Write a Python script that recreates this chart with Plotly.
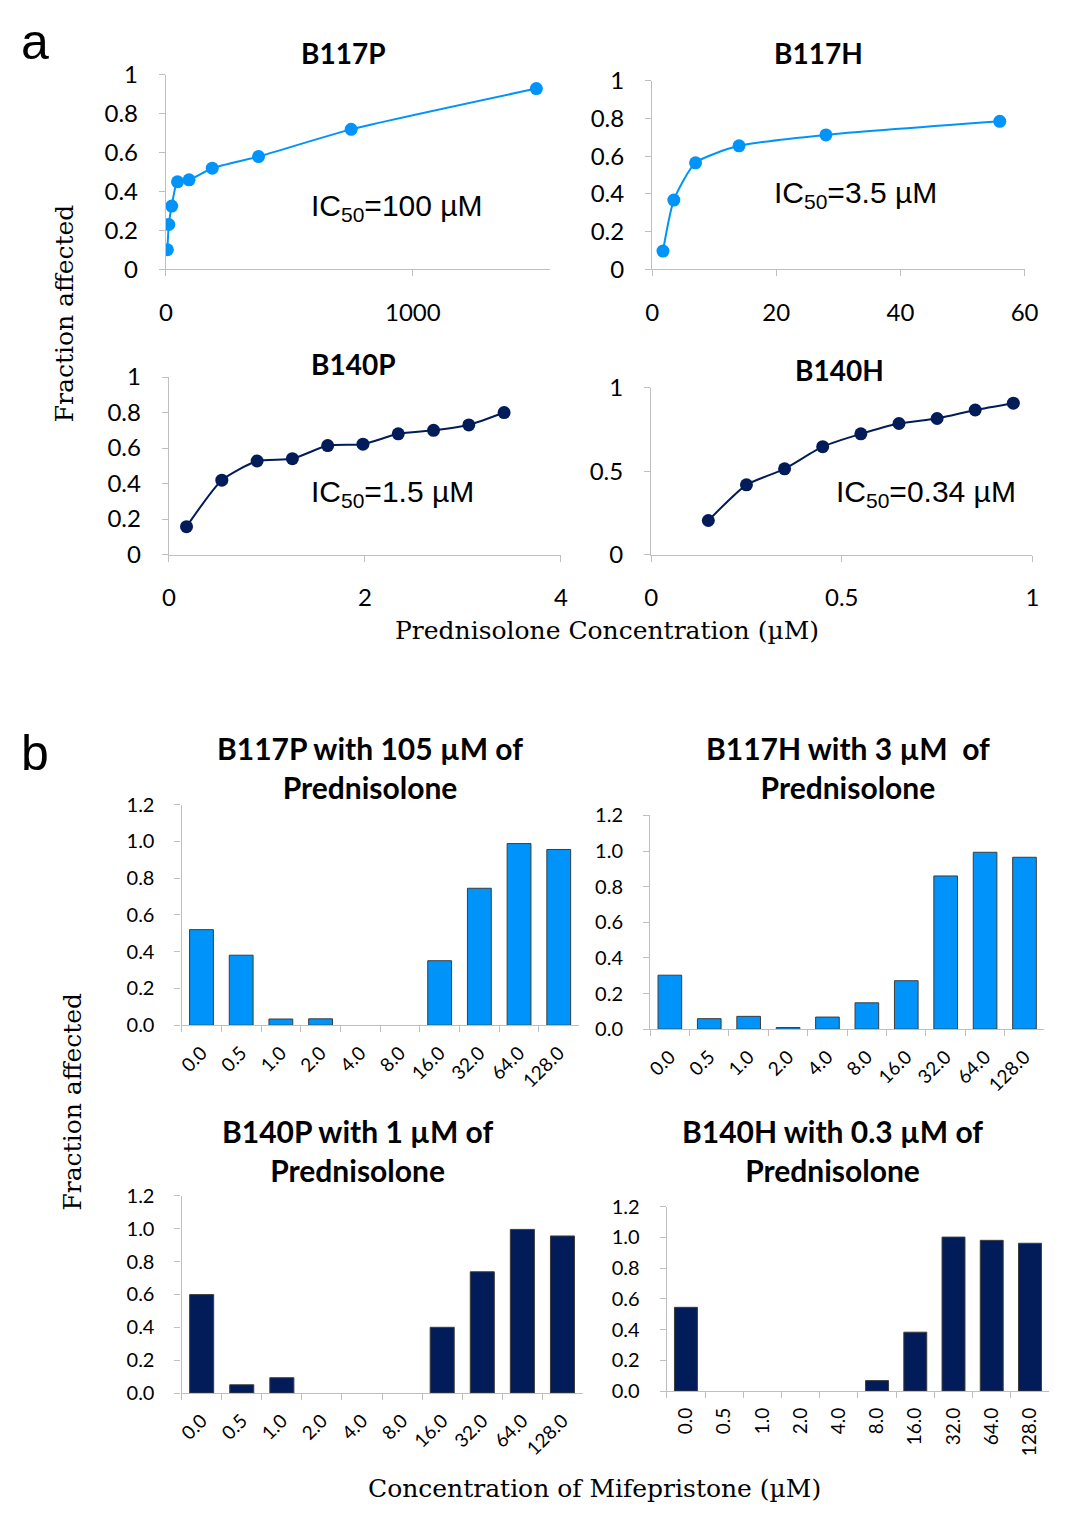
import plotly.graph_objects as go

W, H = 1067, 1516
PAD = 8                      # default page margin of the html body
FW, FH = W - PAD, H - 2 * PAD

# ---------------- Panel a data (Prednisolone dose response) ----------------
b117p_conc = [5.86, 11.7, 23.4, 46.9, 93.75, 187.5, 375, 750, 1500]
b117p_frac = [0.10, 0.23, 0.325, 0.45, 0.46, 0.52, 0.58, 0.72, 0.93]
b117h_conc = [1.75, 3.5, 7, 14, 28, 56]
b117h_frac = [0.096, 0.367, 0.565, 0.655, 0.713, 0.785]
b140p_conc = [0.18, 0.54, 0.90, 1.26, 1.62, 1.98, 2.34, 2.70, 3.06, 3.42]
b140p_frac = [0.157, 0.419, 0.527, 0.54, 0.614, 0.622, 0.68, 0.70, 0.73, 0.80]
b140h_conc = [0.15, 0.25, 0.35, 0.45, 0.55, 0.65, 0.75, 0.85, 0.95]
b140h_frac = [0.204, 0.418, 0.514, 0.647, 0.724, 0.786, 0.816, 0.867, 0.908]

# ---------------- Panel b data (Mifepristone) ----------------
mife_conc = ['0.0', '0.5', '1.0', '2.0', '4.0', '8.0', '16.0', '32.0', '64.0', '128.0']
b117p_mife = [0.52, 0.381, 0.034, 0.035, 0, 0, 0.351, 0.745, 0.988, 0.956]
b117h_mife = [0.303, 0.059, 0.072, 0.009, 0.068, 0.148, 0.272, 0.86, 0.993, 0.965]
b140p_mife = [0.599, 0.05, 0.093, 0, 0, 0, 0.40, 0.738, 0.996, 0.956]
b140h_mife = [0.545, 0, 0, 0, 0, 0.068, 0.383, 1.002, 0.981, 0.962]

line_titles = ['B117P', 'B117H', 'B140P', 'B140H']
ic50_labels = ['IC<sub>50</sub>=100 µM', 'IC<sub>50</sub>=3.5 µM',
               'IC<sub>50</sub>=1.5 µM', 'IC<sub>50</sub>=0.34 µM']
bar_titles = ['B117P with 105 µM of<br>Prednisolone',
              'B117H with 3 µM&nbsp; of<br>Prednisolone',
              'B140P with 1 µM of<br>Prednisolone',
              'B140H with 0.3 µM of<br>Prednisolone']

LIGHT = '#0094FA'
NAVY = '#021C5A'
AXC = '#BFBFBF'
SANS = 'Lato, Carlito, Calibri, sans-serif'
SERIF = 'DejaVu Serif, serif'


def px(x):
    return min(1.0, max(0.0, (x - PAD) / FW))


def py(y):
    return min(1.0, max(0.0, 1 - (y - PAD) / FH))


fig = go.Figure()

# domains in page pixels: (x0, x1, ytop, ybottom)
dom = {
    1: (162, 554, 60, 258),
    2: (658, 1038, 66, 258),
    3: (165, 565, 368, 549),
    4: (657, 1046, 379, 549),
    5: (178, 583, 804, 1029),
    6: (656, 1058, 815, 1033),
    7: (178, 587, 1203, 1404),
    8: (673, 1063, 1214, 1402),
}

line_sets = [
    (b117p_conc, b117p_frac, LIGHT, [0, 1556], [0, 1000], [0, 0.2, 0.4, 0.6, 0.8, 1.0]),
    (b117h_conc, b117h_frac, LIGHT, [0, 60], [0, 20, 40, 60], [0, 0.2, 0.4, 0.6, 0.8, 1.0]),
    (b140p_conc, b140p_frac, NAVY, [0, 4], [0, 2, 4], [0, 0.2, 0.4, 0.6, 0.8, 1.0]),
    (b140h_conc, b140h_frac, NAVY, [0, 1], [0, 0.5, 1], [0, 0.5, 1]),
]

layout_axes = {}
for i, (xs, ys, col, xr, xt, yt) in enumerate(line_sets, start=1):
    sfx = '' if i == 1 else str(i)
    fig.add_trace(go.Scatter(
        x=xs, y=ys, mode='lines+markers', xaxis='x' + sfx, yaxis='y' + sfx,
        line=dict(color=col, width=2, shape='spline', smoothing=0.6),
        marker=dict(color=col, size=13), showlegend=False))
    x0, x1, yt0, yb = dom[i]
    layout_axes['xaxis' + sfx] = dict(
        domain=[px(x0), px(x1)], anchor='y' + sfx, range=xr, tickvals=xt,
        showgrid=False, zeroline=False, showline=True, linecolor=AXC, linewidth=1.3,
        ticks='outside', ticklen=6, tickcolor=AXC, ticklabelstandoff=16,
        tickfont=dict(family=SANS, size=24, color='#000'))
    layout_axes['yaxis' + sfx] = dict(
        domain=[py(yb), py(yt0)], anchor='x' + sfx, range=[0, 1], tickvals=yt,
        ticktext=[('%g' % v) for v in yt],
        showgrid=False, zeroline=False, showline=True, linecolor=AXC, linewidth=1.3,
        ticks='outside', ticklen=6, tickcolor=AXC, ticklabelstandoff=16,
        tickfont=dict(family=SANS, size=24, color='#000'))

bar_sets = [
    (b117p_mife, LIGHT, -45),
    (b117h_mife, LIGHT, -45),
    (b140p_mife, NAVY, -45),
    (b140h_mife, NAVY, -90),
]
for j, (vals, col, ang) in enumerate(bar_sets, start=5):
    sfx = str(j)
    fig.add_trace(go.Bar(
        x=mife_conc, y=vals, xaxis='x' + sfx, yaxis='y' + sfx,
        marker=dict(color=col, line=dict(color='#3C3C3C',
                                         width=[1 if v > 0 else 0 for v in vals])),
        showlegend=False))
    x0, x1, yt0, yb = dom[j]
    layout_axes['xaxis' + sfx] = dict(
        domain=[px(x0), px(x1)], anchor='y' + sfx, type='category',
        tickson='boundaries', tickangle=ang,
        showgrid=False, zeroline=False, showline=True, linecolor=AXC, linewidth=1.3,
        ticks='outside', ticklen=6, tickcolor=AXC, ticklabelstandoff=8,
        tickfont=dict(family=SANS, size=19, color='#000'))
    layout_axes['yaxis' + sfx] = dict(
        domain=[py(yb), py(yt0)], anchor='x' + sfx, range=[0, 1.2],
        tickvals=[0, 0.2, 0.4, 0.6, 0.8, 1.0, 1.2], tickformat='.1f',
        showgrid=False, zeroline=False, showline=True, linecolor=AXC, linewidth=1.3,
        ticks='outside', ticklen=6, tickcolor=AXC, ticklabelstandoff=16,
        tickfont=dict(family=SANS, size=20, color='#000'))

ann = []
# panel letters
ann.append(dict(x=px(28), y=py(26), text='a', font=dict(family='Liberation Sans, Arial', size=50, color='#000')))
ann.append(dict(x=px(28), y=py(751), text='b', font=dict(family='Liberation Sans, Arial', size=50, color='#000')))

# line plot titles
for (cx, cy), t in zip([(343, 38), (828, 38), (353, 355), (849, 361)], line_titles):
    ann.append(dict(x=px(cx), y=py(cy), text='<b>' + t + '</b>',
                    font=dict(family=SANS, size=28, color='#000')))
# IC50 labels
for (cx, cy), t in zip([(398, 195), (866, 182), (393, 487), (937, 487)], ic50_labels):
    ann.append(dict(x=px(cx), y=py(cy), text=t,
                    font=dict(family='Liberation Sans, Arial', size=30, color='#000')))
# bar titles
for (cx, cy), t in zip([(370, 766), (858, 766), (357, 1157), (842, 1157)], bar_titles):
    ann.append(dict(x=px(cx), y=py(cy), text='<b>' + t + '</b>',
                    font=dict(family=SANS, size=30, color='#000'), align='center'))
# axis titles
ann.append(dict(x=px(58), y=py(303), text='Fraction affected', textangle=-90,
                font=dict(family=SERIF, size=25, color='#000')))
ann.append(dict(x=px(612), y=py(626), text='Prednisolone Concentration (µM)',
                font=dict(family=SERIF, size=25, color='#000')))
ann.append(dict(x=px(67), y=py(1107), text='Fraction affected', textangle=-90,
                font=dict(family=SERIF, size=25, color='#000')))
ann.append(dict(x=px(599), y=py(1501), text='Concentration of Mifepristone (µM)',
                font=dict(family=SERIF, size=25, color='#000')))

for a in ann:
    a.update(xref='paper', yref='paper', showarrow=False, xanchor='center', yanchor='middle')

fig.update_layout(
    width=FW, height=FH, margin=dict(l=0, r=0, t=0, b=0),
    paper_bgcolor='white', plot_bgcolor='white', bargap=0.4,
    annotations=ann, **layout_axes)

fig.write_html('out.html', config={'displayModeBar': False})
